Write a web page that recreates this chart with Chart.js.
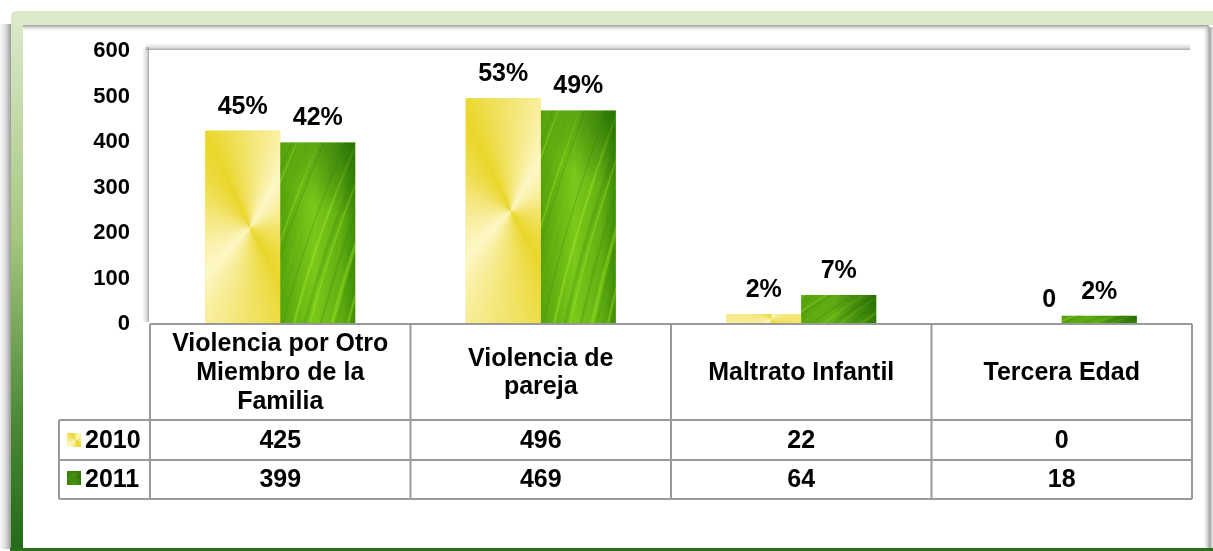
<!DOCTYPE html>
<html>
<head>
<meta charset="utf-8">
<script src="https://cdn.jsdelivr.net/npm/chart.js@4/dist/chart.umd.min.js"></script>
<style>
  html, body { margin: 0; padding: 0; background: #fff; }
  #wrap { width: 1213px; height: 551px; }
</style>
</head>
<body>
<div id="wrap"><canvas id="mycanvas" width="1213" height="551"></canvas></div>
<script>
// datos
var categorias = [["Violencia por Otro", "Miembro de la", "Familia"], ["Violencia de", "pareja"], ["Maltrato Infantil"], ["Tercera Edad"]];
var anios = ["2010", "2011"];
var datos2010 = [425, 496, 22, 0];
var datos2011 = [399, 469, 64, 18];
var etiquetas2010 = ["45%", "53%", "2%", "0"];
var etiquetas2011 = ["42%", "49%", "7%", "2%"];
var maxY = 600;
var pasoY = 100;

var FONT = '"Liberation Sans", Arial, sans-serif';
var LINEA = '#9a9a9a';

function amarillo(ctx, x, y, w, h) {
	var cx = x + w * 0.6, cy = y + h * 0.5;
	var g = ctx.createConicGradient(0, cx, cy);
	g.addColorStop(0, '#f4e46c');
	g.addColorStop(0.17, '#ead62a');
	g.addColorStop(0.37, '#fdf7c6');
	g.addColorStop(0.55, '#f4e67a');
	g.addColorStop(0.68, '#ead62a');
	g.addColorStop(0.83, '#fdf7c6');
	g.addColorStop(1, '#f4e46c');
	ctx.fillStyle = g;
	ctx.fillRect(x, y, w, h);
}

function verde(ctx, x, y, w, h) {
	ctx.save();
	ctx.beginPath();
	ctx.rect(x, y, w, h);
	ctx.clip();
	var g = ctx.createLinearGradient(x, 0, x + w, 0);
	g.addColorStop(0, '#55a20c');
	g.addColorStop(0.45, '#7ac81a');
	g.addColorStop(0.8, '#62b012');
	g.addColorStop(1, '#3f8c08');
	ctx.fillStyle = g;
	ctx.fillRect(x, y, w, h);
	// vetas de la hoja
	for (var k = -6; k < 14; k++) {
		var sx = x + k * 9 + (k % 3) * 2;
		ctx.strokeStyle = k % 2 ? 'rgba(175,240,40,0.35)' : 'rgba(60,130,10,0.25)';
		ctx.lineWidth = 1.5 + (k % 3);
		ctx.beginPath();
		ctx.moveTo(sx, y + h + 10);
		ctx.quadraticCurveTo(sx + 25, y + h * 0.5, sx + 70, y - 10);
		ctx.stroke();
	}
	var r = ctx.createRadialGradient(x + w, y, 0, x + w, y, Math.max(w, 60));
	r.addColorStop(0, 'rgba(30,100,5,0.7)');
	r.addColorStop(1, 'rgba(30,100,5,0)');
	ctx.fillStyle = r;
	ctx.fillRect(x, y, w, h);
	ctx.restore();
}

var marco = {
	id: 'marco',
	beforeDraw: function(chart) {
		var ctx = chart.ctx;
		var a = chart.chartArea;
		ctx.save();
		ctx.fillStyle = '#fff';
		ctx.fillRect(0, 0, chart.width, chart.height);
		// sombra izquierda
		var s = ctx.createLinearGradient(0, 0, 11, 0);
		s.addColorStop(0, '#fafafa');
		s.addColorStop(0.5, '#dcdcdc');
		s.addColorStop(1, '#9c9c9c');
		ctx.fillStyle = s;
		ctx.fillRect(0, 24, 11, 525);
		// banda superior
		ctx.fillStyle = '#dce9cc';
		ctx.beginPath();
		ctx.moveTo(11, 25);
		ctx.lineTo(11, 17);
		ctx.quadraticCurveTo(11, 11, 17, 11);
		ctx.lineTo(1213, 11);
		ctx.lineTo(1213, 25);
		ctx.closePath();
		ctx.fill();
		// borde izquierdo verde
		var v = ctx.createLinearGradient(0, 25, 0, 549);
		v.addColorStop(0, '#d8e8c8');
		v.addColorStop(0.4, '#a6c77f');
		v.addColorStop(0.75, '#4c8a36');
		v.addColorStop(1, '#236a19');
		ctx.fillStyle = v;
		ctx.fillRect(11, 25, 12, 524);
		// linea inferior
		ctx.fillStyle = '#2a6e1e';
		ctx.fillRect(10, 548, 1203, 3);
		// sombra bajo la banda
		var t = ctx.createLinearGradient(0, 25, 0, 32);
		t.addColorStop(0, '#9a9a9a');
		t.addColorStop(1, 'rgba(255,255,255,0)');
		ctx.fillStyle = t;
		ctx.fillRect(23, 25, 1186, 7);
		// sombra derecha
		var d = ctx.createLinearGradient(1202, 0, 1213, 0);
		d.addColorStop(0, 'rgba(255,255,255,0)');
		d.addColorStop(0.7, '#a4a4a4');
		d.addColorStop(1, '#e8e8e8');
		ctx.fillStyle = d;
		ctx.fillRect(1202, 27, 11, 521);
		// sombra del area de trazado
		var pt = ctx.createLinearGradient(0, a.top - 8, 0, a.top);
		pt.addColorStop(0, 'rgba(150,150,150,0)');
		pt.addColorStop(0.6, 'rgba(150,150,150,0.35)');
		pt.addColorStop(1, '#8e8e8e');
		ctx.fillStyle = pt;
		ctx.fillRect(a.left - 4, a.top - 8, a.right - a.left + 2, 7);
		var pl = ctx.createLinearGradient(a.left - 8, 0, a.left, 0);
		pl.addColorStop(0, 'rgba(150,150,150,0)');
		pl.addColorStop(0.6, 'rgba(150,150,150,0.35)');
		pl.addColorStop(1, '#8e8e8e');
		ctx.fillStyle = pl;
		ctx.fillRect(a.left - 8, a.top - 4, 7, a.bottom - a.top + 2);
		ctx.restore();
	}
};

var texturas = {
	id: 'texturas',
	afterDatasetsDraw: function(chart) {
		var ctx = chart.ctx;
		var textos = [etiquetas2010, etiquetas2011];
		ctx.save();
		for (var d = 0; d < 2; d++) {
			var meta = chart.getDatasetMeta(d);
			meta.data.forEach(function(bar, i) {
				var p = bar.getProps(['x', 'y', 'base', 'width'], true);
				var x = p.x - p.width / 2, h = p.base - p.y;
				if (h > 0.5) {
					if (d == 0) amarillo(ctx, x, p.y, p.width, h);
					else verde(ctx, x, p.y, p.width, h);
				}
				ctx.fillStyle = '#000';
				ctx.font = 'bold 25px ' + FONT;
				ctx.textAlign = 'center';
				ctx.textBaseline = 'middle';
				// la etiqueta del cero queda algo desplazada en el original
				var dx = (h <= 0.5) ? 25 : 0;
				ctx.fillText(textos[d][i], p.x + dx, p.y - 24);
			});
		}
		ctx.restore();
	}
};

var tabla = {
	id: 'tabla',
	afterDraw: function(chart) {
		var ctx = chart.ctx;
		var xs = chart.scales.x;
		var a = chart.chartArea;
		var ancho = (a.right - a.left) / categorias.length;
		var top = a.bottom, f1 = 420, f2 = 460, f3 = 499, izq = 59;
		ctx.save();
		ctx.strokeStyle = LINEA;
		ctx.lineWidth = 2;
		ctx.beginPath();
		ctx.moveTo(a.left, top); ctx.lineTo(a.right, top);
		ctx.moveTo(izq, f1); ctx.lineTo(a.right, f1);
		ctx.moveTo(izq, f2); ctx.lineTo(a.right, f2);
		ctx.moveTo(izq, f3); ctx.lineTo(a.right, f3);
		ctx.moveTo(izq, f1); ctx.lineTo(izq, f3);
		for (var i = 0; i <= categorias.length; i++) {
			var bx = a.left + i * ancho;
			ctx.moveTo(bx, top); ctx.lineTo(bx, f3);
		}
		ctx.stroke();

		ctx.fillStyle = '#000';
		ctx.font = 'bold 25px ' + FONT;
		ctx.textAlign = 'center';
		ctx.textBaseline = 'middle';
		var valores = [datos2010, datos2011];
		categorias.forEach(function(lineas, i) {
			var cx = xs.getPixelForValue(i);
			var alto = lineas.length == 3 ? 29 : 28;
			var y0 = (top + f1) / 2 + 1 - (lineas.length - 1) * alto / 2;
			lineas.forEach(function(l, j) {
				ctx.fillText(l, cx, y0 + j * alto);
			});
			ctx.fillText(String(valores[0][i]), cx, (f1 + f2) / 2 + 1);
			ctx.fillText(String(valores[1][i]), cx, (f2 + f3) / 2 + 1);
		});
		// claves de la leyenda
		amarillo(ctx, 67, 433, 14, 14);
		verde(ctx, 67, 471, 14, 14);
		ctx.fillStyle = '#000';
		ctx.textAlign = 'left';
		ctx.fillText(anios[0], 85, (f1 + f2) / 2 + 1);
		ctx.fillText(anios[1], 85, (f2 + f3) / 2 + 1);
		ctx.restore();
	}
};

var chartdata = {
	labels: categorias.map(function(c) { return c.join(' '); }),
	datasets: [
		{ label: anios[0], backgroundColor: '#f0df50', data: datos2010, borderWidth: 0 },
		{ label: anios[1], backgroundColor: '#5aac0e', data: datos2011, borderWidth: 0 }
	]
};

var ctx = document.getElementById('mycanvas');
var barGraph = new Chart(ctx, {
	type: 'bar',
	data: chartdata,
	plugins: [marco, texturas, tabla],
	options: {
		responsive: false,
		animation: false,
		layout: { padding: { left: 0, top: 51, right: 21, bottom: 0 } },
		plugins: { legend: { display: false }, tooltip: { enabled: false } },
		datasets: { bar: { categoryPercentage: 0.576, barPercentage: 1 } },
		scales: {
			x: {
				grid: { display: false, drawTicks: false },
				border: { display: false },
				ticks: { display: false },
				afterFit: function(s) { s.height = 227; }
			},
			y: {
				min: 0,
				max: maxY,
				grid: { display: false, drawTicks: false },
				border: { display: false },
				ticks: {
					stepSize: pasoY,
					padding: 20,
					color: '#000',
					font: { family: FONT, size: 22, weight: 'bold' }
				},
				afterFit: function(s) { s.width = 150; }
			}
		}
	}
});
</script>
</body>
</html>
